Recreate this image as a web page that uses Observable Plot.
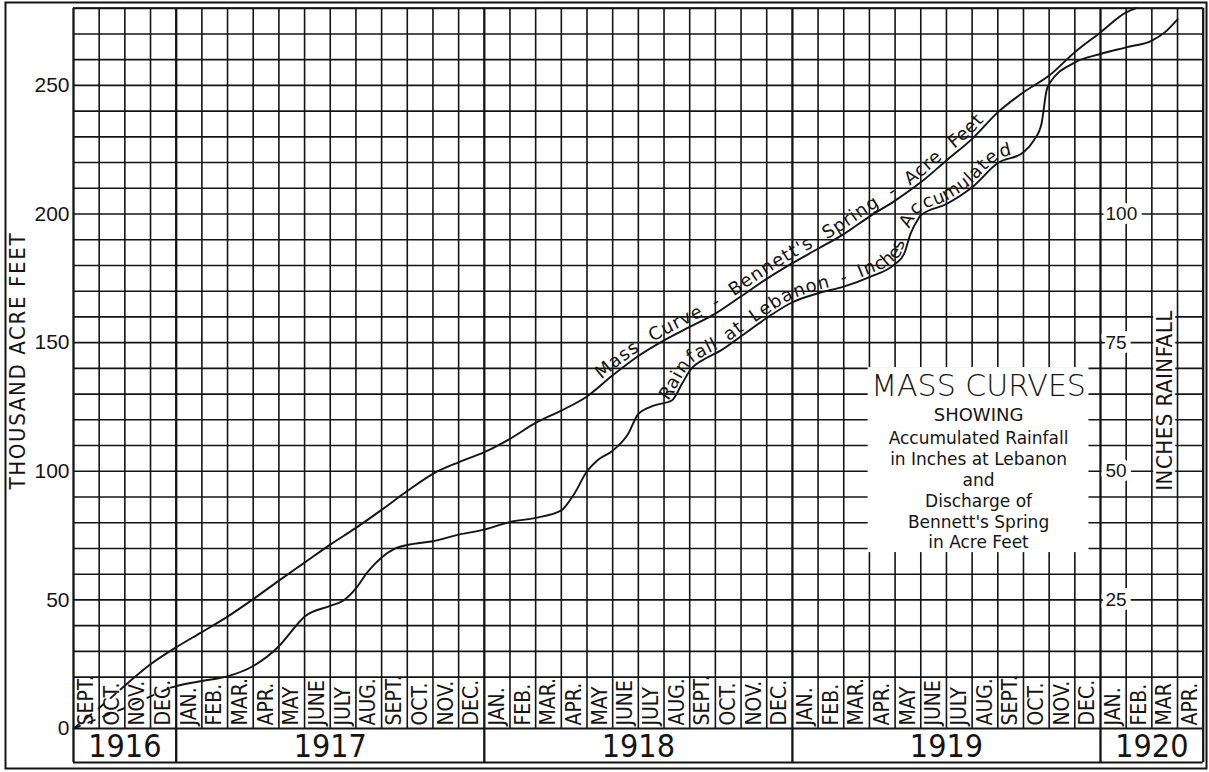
<!DOCTYPE html>
<html><head><meta charset="utf-8">
<script src="https://cdn.jsdelivr.net/npm/d3@7"></script>
<script src="https://cdn.jsdelivr.net/npm/@observablehq/plot@0.6"></script>
<style>
body{margin:0;background:#fff;}
#chart{position:relative;width:1209px;height:772px;}
svg{display:block}
</style></head><body><div id="chart"></div>
<script>
// ---- data ----
const monthLabels = [
 "SEPT.","OCT.","NOV.","DEC.",
 "JAN.","FEB.","MAR.","APR.","MAY","JUNE","JULY","AUG.","SEPT.","OCT.","NOV.","DEC.",
 "JAN.","FEB.","MAR.","APR.","MAY","JUNE","JULY","AUG.","SEPT.","OCT.","NOV.","DEC.",
 "JAN.","FEB.","MAR.","APR.","MAY","JUNE","JULY","AUG.","SEPT.","OCT.","NOV.","DEC.",
 "JAN.","FEB.","MAR","APR."];
const yearLabels = ["1916","1917","1918","1919","1920"];
const yearStarts = [0,4,16,28,40];
const yearEnds = [4,16,28,40,44];
const leftTicks = [0,50,100,150,200,250];
const rightTicksInches = [25,50,75,100];

// month index counted from 1 Sept 1916; thousand acre-feet accumulated
const dischargeMonth = [0,1,1.83,3,4,5,6,7,8,9,10,11,12,13,14,15,16,17,18,19,20,21,22,23,24,25,26,27,28,29,30,31,32,33,34,35,36,37,38,39,40,41,41.4];
const dischargeKaf   = [0,8,15.2,25,31.6,37.5,43.5,50.3,57.5,64.5,71.5,78,85,92.3,99,103.5,107.4,112.6,118.8,123.6,129.1,137.3,144.8,150.9,156.1,161.3,168,174.8,180.9,186.5,192.2,199,205.2,212.3,220.8,229.2,239.5,247.3,253.8,262.9,270.6,278.4,280];

// accumulated rainfall at Lebanon, inches
const rainMonth  = [0,1,2,3,3.78,4,5,6,7,8,8.85,9,10,10.5,11,11.45,12,12.5,13.25,14,15,16,17,18,19,19.5,20,20.4,21,21.6,22,22.6,23.3,23.7,24,24.7,25.2,26,27,28,29,30,31,32,32.35,32.6,32.9,33,34,35,36,37,37.4,37.7,37.9,38,39,40,41,42,42.5,43];
const rainInches = [0,2,4,6.25,7.95,8.25,9.25,10.15,12.15,16,21,21.75,23.85,24.85,27.25,30.4,33.25,34.9,35.9,36.4,37.7,38.65,40.15,40.95,42.4,45.6,50,52.1,54,57.25,61.15,62.75,63.75,67,69.55,72.15,73.45,76.25,79.8,82.85,84.6,85.9,87.75,90.3,92.25,96.15,99.05,99.75,101.95,105.2,109.9,112,114.3,117.5,124,125.25,129.45,131.1,132.4,133.7,135.3,137.85];

const legendTitle = "MASS CURVES";
const legendSubtitle = "SHOWING";
const legendBody = ["Accumulated Rainfall","in Inches at Lebanon","and","Discharge of","Bennett's Spring","in Acre Feet"];
const dischargeLabelWords = ["Mass","Curve","-","Bennett's","Spring","-","Acre","Feet"];
const rainLabelWords = ["Rainfall","at","Lebanon","-","Inches","Accumulated"];
const leftTitle = "THOUSAND ACRE FEET";
const rightTitle = "INCHES RAINFALL";

// ---- build ----
const INK = "#141414";
const months = d3.range(monthLabels.length + 1);
const hLines = d3.range(20, 290, 10);
const discharge = dischargeMonth.map((m, i) => ({m, v: dischargeKaf[i]}));
const rain = rainMonth.map((m, i) => ({m, v: rainInches[i] * 2}));
const dashEndD = 1.83, dashEndR = 3.78;
const BAND = -13.2;
const SANS = "DejaVu Sans";
const NARROW = "'Liberation Sans Narrow','DejaVu Sans Condensed','Liberation Sans',sans-serif";

const svg = Plot.plot({
  width: 1209, height: 772,
  marginLeft: 73, marginRight: 6.3, marginTop: 7.7, marginBottom: 10,
  x: {domain: [0, 44], axis: null},
  y: {domain: [BAND, 280], axis: null},
  style: {fontFamily: SANS, background: "white", color: INK},
  marks: [
    Plot.frame({insetLeft: -68, insetTop: -5.7, insetRight: -3.3, insetBottom: -6, stroke: INK, strokeWidth: 2}),
    // grid
    Plot.ruleX(months.filter(d => !yearStarts.includes(d) && d !== 44), {y1: 0, y2: 280, stroke: INK, strokeWidth: 1.6}),
    Plot.ruleX(yearStarts.concat([44]), {y1: BAND, y2: 280, stroke: INK, strokeWidth: 2.3}),
    Plot.ruleY(hLines, {x1: 0, x2: 44, stroke: INK, strokeWidth: 1.6}),
    Plot.ruleY([0, BAND, 280], {x1: 0, x2: 44, stroke: INK, strokeWidth: 2.1}),
    // white panels
    Plot.rect([0], {x1: 30.95, x2: 39.55, y1: 68.4, y2: 140.3, fill: "white"}),
    Plot.rect([0], {x1: 42.07, x2: 42.93, y1: 90.5, y2: 166.5, fill: "white"}),
    // curves (line marks 0..3 in this order)
    Plot.line(discharge.filter(d => d.m <= dashEndD), {x: "m", y: "v", stroke: INK, strokeWidth: 1.8, strokeDasharray: "7,9"}),
    Plot.line(discharge.filter(d => d.m >= dashEndD), {x: "m", y: "v", curve: "monotone-x", stroke: INK, strokeWidth: 1.9}),
    Plot.line(rain.filter(d => d.m <= dashEndR), {x: "m", y: "v", stroke: INK, strokeWidth: 1.8, strokeDasharray: "7,9"}),
    Plot.line(rain.filter(d => d.m >= dashEndR), {x: "m", y: "v", curve: "monotone-x", stroke: INK, strokeWidth: 1.9}),
    // month + year labels
    Plot.text(monthLabels, {x: (d, i) => i + 0.5, y: 0, text: d => d, rotate: -90, textAnchor: "start", lineAnchor: "middle", dy: -3, fontSize: 21, fontFamily: NARROW, fill: INK}),
    Plot.text(yearLabels, {x: (d, i) => (yearStarts[i] + yearEnds[i]) / 2, y: BAND / 2, text: d => d, fontSize: 32, fontFamily: NARROW, fontWeight: 300, fill: INK, dy: 1}),
    // axes
    Plot.axisY({ticks: leftTicks, tickSize: 0, tickPadding: 4, fontSize: 21, fontFamily: "Liberation Sans", label: null, anchor: "left"}),
    Plot.text(rightTicksInches, {x: 40, y: d => d * 2, text: d => String(d), textAnchor: "start", dx: 5, fontSize: 19, fontFamily: "Liberation Sans", fill: INK, stroke: "white", strokeWidth: 10, paintOrder: "stroke"}),
    Plot.text([leftTitle], {x: -2.15, y: 143, text: d => d, rotate: -90, fontSize: 22, fontFamily: NARROW, fill: INK}),
    Plot.text([rightTitle], {x: 42.5, y: 127.5, text: d => d, rotate: -90, fontSize: 22, fontFamily: NARROW, fill: INK}),
    // legend
    Plot.text([legendTitle], {x: 35.25, y: 132.9, text: d => d, fontSize: 30, fontWeight: 200, fill: INK}),
    Plot.text([legendSubtitle], {x: 35.25, y: 121.6, text: d => d, fontSize: 18, fill: INK}),
    Plot.text([legendBody.join("\n")], {x: 35.25, y: 92.9, text: d => d, fontSize: 17, lineHeight: 1.23, lineAnchor: "middle", fill: INK})
  ]
});
document.getElementById("chart").append(svg);

// stretch the vertical titles to the reference lengths
function fitText(label, target) {
  d3.select(svg).selectAll("text").filter(function() { return this.textContent === label; }).each(function() {
    const len = this.getComputedTextLength();
    this.setAttribute("letter-spacing", ((target - len) / (label.length - 1)).toFixed(2));
  });
}
fitText(leftTitle, 256);
fitText(rightTitle, 180);

// curve labels written along the drawn curves
const xs = svg.scale("x");
const lineGroups = svg.querySelectorAll('g[aria-label="line"]');
function pathLabel(g, id, words, m0, m1, dy) {
  const path = g.querySelector("path");
  path.setAttribute("id", id);
  const L = path.getTotalLength();
  const at = (x) => { let lo = 0, hi = L; for (let k = 0; k < 50; k++) { const mid = (lo + hi) / 2; if (path.getPointAtLength(mid).x < x) lo = mid; else hi = mid; } return lo; };
  const s0 = at(xs.apply(m0)), s1 = at(xs.apply(m1));
  const ns = "http://www.w3.org/2000/svg";
  const parts = words.map(w => {
    const t = document.createElementNS(ns, "text");
    t.setAttribute("fill", INK); t.setAttribute("stroke", "none");
    t.setAttribute("font-size", 18); t.setAttribute("font-family", SANS);
    t.setAttribute("letter-spacing", 1);
    t.setAttribute("text-anchor", "start");
    t.setAttribute("dy", dy);
    const tp = document.createElementNS(ns, "textPath");
    tp.setAttribute("href", "#" + id);
    tp.setAttribute("startOffset", 0);
    tp.textContent = w;
    t.appendChild(tp);
    g.appendChild(t);
    return {tp, len: t.getComputedTextLength()};
  });
  const total = d3.sum(parts, p => p.len);
  const gap = (s1 - s0 - total) / (parts.length - 1);
  let off = s0;
  for (const p of parts) { p.tp.setAttribute("startOffset", off.toFixed(1)); off += p.len + gap; }
}
pathLabel(lineGroups[1], "discharge-path", dischargeLabelWords, 20.65, 35.6, -4);
pathLabel(lineGroups[3], "rain-path", rainLabelWords, 23.2, 36.6, -3);
</script></body></html>
